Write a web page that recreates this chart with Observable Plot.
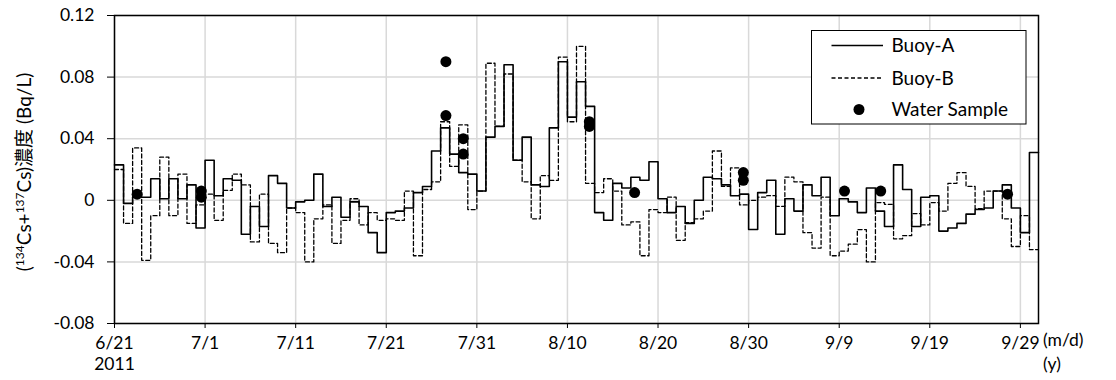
<!DOCTYPE html>
<html><head><meta charset="utf-8">
<script src="https://cdn.jsdelivr.net/npm/d3@7"></script>
<script src="https://cdn.jsdelivr.net/npm/@observablehq/plot@0.6"></script>
<style>
html,body{margin:0;padding:0;background:#fff;}
#chart svg{display:block;}
</style>
</head><body><div id="chart"></div>
<script>
// ---- data (daily values starting 2011-06-21) ----
const startDate = "2011-06-21";
const endDate = "2011-10-01";
const buoyA = [
  0.023,-0.002,0.002,0.002,0.014,0.001,0.014,0.001,0.010,-0.018,
  0.026,0.003,0.014,0.013,-0.022,-0.004,-0.017,0.016,0.011,-0.005,
  -0.001,0.000,0.017,-0.004,0.002,-0.011,-0.001,-0.004,-0.021,-0.034,
  -0.008,-0.007,-0.005,0.005,0.009,0.032,0.047,0.030,0.018,0.017,
  0.006,0.041,0.048,0.088,0.026,0.041,0.010,0.009,0.047,0.090,
  0.054,0.077,0.061,-0.008,-0.013,0.011,0.008,0.015,0.013,0.025,
  0.001,-0.008,-0.004,-0.015,0.000,0.015,0.014,0.010,0.003,0.004,
  -0.019,0.005,0.013,-0.022,0.001,-0.007,0.010,0.003,0.015,-0.010,
  0.001,-0.001,-0.008,0.008,-0.007,-0.017,0.023,0.007,-0.017,0.002,
  0.003,-0.020,-0.018,-0.015,-0.009,-0.006,-0.005,0.006,0.010,-0.005,
  -0.021,0.031
];
const buoyB = [
  0.020,-0.015,0.034,-0.039,-0.010,0.028,-0.010,0.017,-0.015,-0.003,
  0.004,-0.013,0.0065,0.017,0.010,-0.027,0.004,-0.028,-0.034,-0.005,
  -0.008,-0.040,-0.012,-0.003,-0.028,-0.013,0.001,-0.016,-0.008,-0.013,
  -0.012,-0.013,0.006,-0.036,0.007,0.012,0.051,0.022,0.049,-0.006,
  0.006,0.089,0.048,0.082,0.026,0.012,-0.012,0.016,0.013,0.093,
  0.051,0.100,0.011,0.005,0.014,0.006,-0.016,-0.014,-0.036,-0.006,
  -0.008,0.002,-0.026,-0.0145,-0.012,-0.007,0.032,0.009,0.021,-0.003,
  0.000,0.002,0.003,-0.004,0.015,0.012,-0.021,-0.031,0.002,-0.036,
  -0.033,-0.0285,-0.019,-0.040,-0.0015,-0.0026,-0.025,-0.023,-0.0086,-0.016,
  -0.0015,-0.007,0.011,0.018,0.009,-0.0054,0.006,0.006,-0.012,-0.030,
  -0.010,-0.032
];
const sampleTimes = [
  "2011-06-23T12:00Z","2011-06-30T14:00Z","2011-06-30T14:00Z",
  "2011-07-27T14:00Z","2011-07-27T14:00Z","2011-07-29T12:00Z","2011-07-29T12:00Z",
  "2011-08-12T10:00Z","2011-08-12T10:00Z","2011-08-17T10:00Z",
  "2011-08-29T10:00Z","2011-08-29T10:00Z","2011-09-09T14:00Z",
  "2011-09-13T14:00Z","2011-09-27T14:00Z"
];
const sampleValues = [
  0.004,0.006,0.002,
  0.090,0.055,0.040,0.030,
  0.051,0.048,0.005,
  0.018,0.013,0.006,
  0.006,0.004
];
const xTicks = ["2011-06-21","2011-07-01","2011-07-11","2011-07-21","2011-07-31","2011-08-10",
                "2011-08-20","2011-08-30","2011-09-09","2011-09-19","2011-09-29"];
const xTickLabels = ["6/21\n2011","7/1","7/11","7/21","7/31","8/10","8/20","8/30","9/9","9/19","9/29"];
const yTicks = [-0.08,-0.04,0,0.04,0.08,0.12];
const yTickLabels = ["-0.08","-0.04","0","0.04","0.08","0.12"];
const seriesNames = ["Buoy-A","Buoy-B","Water Sample"];
const xUnitLabels = ["(m/d)","(y)"];

// ---- derived tables ----
const t0 = new Date(startDate + "T00:00Z");
const stepRows = d3.range(buoyA.length + 1).map(i => ({
  date: d3.utcDay.offset(t0, i),
  A: buoyA[Math.min(i, buoyA.length - 1)],
  B: buoyB[Math.min(i, buoyB.length - 1)]
}));
const samples = sampleTimes.map((t, i) => ({date: new Date(t), v: sampleValues[i]}));
const xTickDates = xTicks.map(s => new Date(s + "T00:00Z"));

const FONT = "Lato, 'Noto Sans CJK JP', 'Open Sans', sans-serif";

const chart = Plot.plot({
  width: 1116,
  height: 380,
  marginLeft: 114,
  marginRight: 78,
  marginTop: 15,
  marginBottom: 57,
  style: {fontFamily: FONT, fontSize: "17.5px", color: "#000", background: "#fff", overflow: "visible"},
  x: {type: "utc", domain: [t0, new Date(endDate + "T00:00Z")]},
  y: {domain: [-0.08, 0.12]},
  marks: [
    Plot.gridX(xTickDates, {stroke: "#d9d9d9", strokeOpacity: 1, strokeWidth: 1.5}),
    Plot.gridY(yTicks, {stroke: "#d9d9d9", strokeOpacity: 1, strokeWidth: 1.5}),
    Plot.line(stepRows, {x: "date", y: "B", curve: "step-after", stroke: "#000", strokeWidth: 1.3, strokeDasharray: "4,2.5"}),
    Plot.line(stepRows, {x: "date", y: "A", curve: "step-after", stroke: "#000", strokeWidth: 1.6}),
    Plot.dot(samples, {x: "date", y: "v", r: 5.5, fill: "#000", stroke: "none"}),
    Plot.frame({stroke: "#000", strokeWidth: 1.5}),
    Plot.axisX(xTickDates, {
      tickSize: 5, tickPadding: 6, label: null,
      tickFormat: d => xTickLabels[xTickDates.findIndex(t => +t === +d)],
      lineHeight: 1.17
    }),
    Plot.axisY(yTicks, {
      tickSize: 7, tickPadding: 13, label: null,
      tickFormat: d => yTickLabels[yTicks.indexOf(d)]
    })
  ]
});
document.getElementById("chart").appendChild(chart);

// ---- extra text: y label, unit labels, legend ----
const svg = d3.select(chart);
const yl = svg.append("text")
  .attr("transform", "translate(31,172) rotate(-90)")
  .attr("text-anchor", "middle")
  .attr("font-family", FONT)
  .attr("font-size", 19)
  .attr("fill", "#000");
yl.append("tspan").text("(");
yl.append("tspan").attr("font-size", 12).attr("dy", -7).text("134");
yl.append("tspan").attr("dy", 7).text("Cs+");
yl.append("tspan").attr("font-size", 12).attr("dy", -7).text("137");
yl.append("tspan").attr("dy", 7).text("Cs)濃度 (Bq/L)");

svg.append("text").attr("x", 1043).attr("y", 346).attr("text-anchor", "start")
  .attr("font-family", FONT).attr("font-size", 17.5).text(xUnitLabels[0]);
svg.append("text").attr("x", 1043).attr("y", 370).attr("text-anchor", "start")
  .attr("font-family", FONT).attr("font-size", 17.5).text(xUnitLabels[1]);

const lg = svg.append("g").attr("font-family", FONT).attr("font-size", 19).attr("text-anchor", "start");
lg.append("rect").attr("x", 811.5).attr("y", 30.5).attr("width", 214.5).attr("height", 93.5)
  .attr("fill", "#fff").attr("stroke", "#000").attr("stroke-width", 1);
const rows = [45.5, 78, 109.5];
lg.append("line").attr("x1", 831.5).attr("x2", 883).attr("y1", rows[0]).attr("y2", rows[0])
  .attr("stroke", "#000").attr("stroke-width", 1.6);
lg.append("line").attr("x1", 831.5).attr("x2", 883).attr("y1", rows[1]).attr("y2", rows[1])
  .attr("stroke", "#000").attr("stroke-width", 1.3).attr("stroke-dasharray", "4,2.5");
lg.append("circle").attr("cx", 859).attr("cy", rows[2]).attr("r", 5.5).attr("fill", "#000");
seriesNames.forEach((name, i) => {
  lg.append("text").attr("x", 891.5).attr("y", rows[i]).attr("dy", "0.35em").text(name);
});
</script>
</body></html>
